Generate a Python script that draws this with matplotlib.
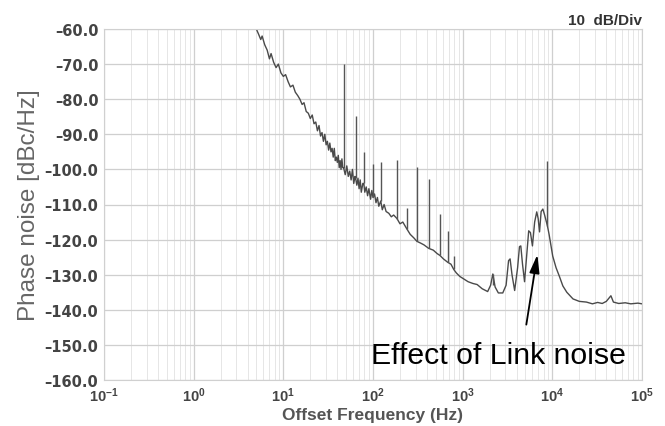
import numpy as np
import matplotlib
matplotlib.use("Agg")
from matplotlib import pyplot as plt
from matplotlib.ticker import LogLocator, FixedLocator, FuncFormatter

plt.rcParams['font.family'] = ['Liberation Sans', 'DejaVu Sans']
plt.rcParams['mathtext.default'] = 'regular'

# trace (Hz, dBc/Hz), same number of values per line
freq = [5.0, 5.3, 5.6, 5.8, 6.2, 6.6, 7.0, 7.3, 7.8, 8.3, 8.8, 9.4, 10, 10.6, 11.3,
        12, 12.8, 13.6, 14.5, 15.3, 16.2, 17, 18, 19,
        20, 21, 22, 23, 24, 25, 26, 27, 28, 29, 30, 31, 32, 33, 34, 35,
        36, 37, 38, 39, 40, 41, 42, 43, 44, 45, 46, 47, 49, 51, 53, 55,
        57, 59, 61, 63, 64, 66, 68, 70, 72, 74, 77, 79, 81, 84, 87, 90,
        94, 97, 100, 104, 108, 112, 116, 122, 127, 133, 140, 150, 160, 170, 185, 200,
        215, 239, 260, 285, 309, 340, 370, 418, 470, 520, 557, 610, 684, 740, 795, 850,
        930, 1000, 1150, 1300, 1450, 1650, 1900, 2050, 2170, 2300, 2500, 2800,
        3050, 3250, 3380, 3550, 3800, 4100, 4300, 4450, 4650, 4900, 5200, 5450,
        5700, 6000, 6350, 6700, 6950, 7200, 7500, 7840, 8200, 8600, 8800, 9200,
        10100, 11000, 12000, 13100, 14500, 17000, 20000, 24000, 28000, 32000,
        36000, 40000, 45000, 48000, 55000, 65000, 75000, 90000, 100000]
level = [-60, -61.5, -63, -62, -64.5, -66, -68.5, -67, -69.5, -71, -70, -72.5, -73.5,
         -73, -75, -76.5, -76, -78, -79, -80, -81.5, -81, -83.5, -84,
         -85.5, -84.5, -87, -86.5, -89, -87.5, -90.5, -89.5, -92, -90, -93, -92, -94.5, -92.5, -95, -94,
         -96.5, -94, -97.5, -96.5, -98, -96, -99.5, -97.5, -100, -97, -99.5, -99.5, -101.5, -99, -102, -100.5,
         -103, -100, -104, -102, -102.5, -104.5, -102.5, -105.5, -103, -106.5, -104, -104, -106.5, -105, -107.5, -105.5,
         -108.5, -106, -108, -107, -109.5, -108, -110.5, -109, -111.5, -110, -112, -112.5, -113.5, -113, -114, -115.5,
         -115, -117, -118.5, -119.5, -120.5, -121, -121.5, -122.5, -123, -124, -124.5, -125.5, -126.5, -127, -128.5, -129.5,
         -130.5, -131, -132, -132.5, -132.8, -134, -134.8, -133, -129.8, -133.5, -135.2, -135.2,
         -133, -126, -125.5, -130, -134.5, -128, -122, -121.8, -127, -132, -124, -117.5,
         -118, -121.8, -115, -112.1, -114, -117.8, -112, -111.3, -113, -115, -116, -118.5,
         -124.7, -128, -130.5, -133.2, -135, -136.9, -137.6, -137.8, -138.3, -137.9,
         -138.2, -137.6, -136, -137.8, -138.2, -138, -138.3, -138.1, -138.3]

# discrete spurs: frequency, base and top level
spur_f = [47, 64, 79, 100, 122, 185, 239, 309, 418, 557, 684, 795, 2170, 8700]
spur_base = [-99.5, -102.5, -104, -108, -109, -114, -117, -120.5, -122.5, -124.5,
             -126.5, -128.5, -133, -116]
spur_top = [-70, -84.8, -95, -98.5, -97.9, -97.3, -111, -99.3, -102.7, -112.7,
            -117.5, -124.7, -129.8, -97.6]

fig = plt.figure(figsize=(6.65, 4.27), dpi=100)
ax = fig.add_axes([104 / 665, 1 - 381 / 427, 538 / 665, 351 / 427])

ax.plot(freq, level, color='#4a4a4a', lw=1.0)
ax.vlines(spur_f, spur_base, spur_top, color='#555555', lw=1.0)

ax.set_xscale('log')
ax.set_xlim(1e-1, 1e5)
ax.set_ylim(-160, -60)

ax.xaxis.set_major_locator(LogLocator(base=10, numticks=10))
ax.xaxis.set_minor_locator(LogLocator(base=10, subs=np.arange(2, 10), numticks=20))
ax.xaxis.set_major_formatter(FuncFormatter(lambda v, p: r'10$^{%d}$' % round(np.log10(v))))
ax.yaxis.set_major_locator(FixedLocator(np.arange(-160, -59, 10)))
ax.yaxis.set_major_formatter(FuncFormatter(lambda v, p: f'{v:.1f}'.replace('-', '\u2013')))

ax.grid(which='major', color='#cfcfcf', lw=0.9)
ax.grid(which='minor', axis='x', color='#e6e6e6', lw=0.7)
ax.set_axisbelow(True)
for s in ax.spines.values():
    s.set_color('#d0d0d0')
ax.tick_params(which='both', length=0, colors='#444444', pad=4)
ax.tick_params(axis='x', labelsize=10.5)
for t in ax.get_xticklabels():
    t.set_fontweight('bold')
for t in ax.get_yticklabels():
    t.set_fontweight('bold')
    t.set_fontfamily('DejaVu Sans')
    t.set_fontsize(10.5)

ax.set_xlabel('Offset Frequency (Hz)', fontsize=12.5, fontweight='bold', color='#555555', labelpad=2)
ax.set_ylabel('Phase noise [dBc/Hz]', fontsize=17.5, color='#666666', labelpad=3)
ax.text(1.0, 1.006, '10  dB/Div', transform=ax.transAxes, ha='right', va='bottom',
        fontsize=11, fontweight='bold', color='#333333')

ax.annotate('', xy=(6890, -123.5), xytext=(5070, -145),
            arrowprops=dict(arrowstyle='-|>,head_width=0.3,head_length=1.1', color='black', lw=1.3))
ax.text(95, -152.8, 'Effect of Link noise', fontsize=21.8, color='black', va='center', ha='left')

plt.savefig('out.png', dpi=100)
